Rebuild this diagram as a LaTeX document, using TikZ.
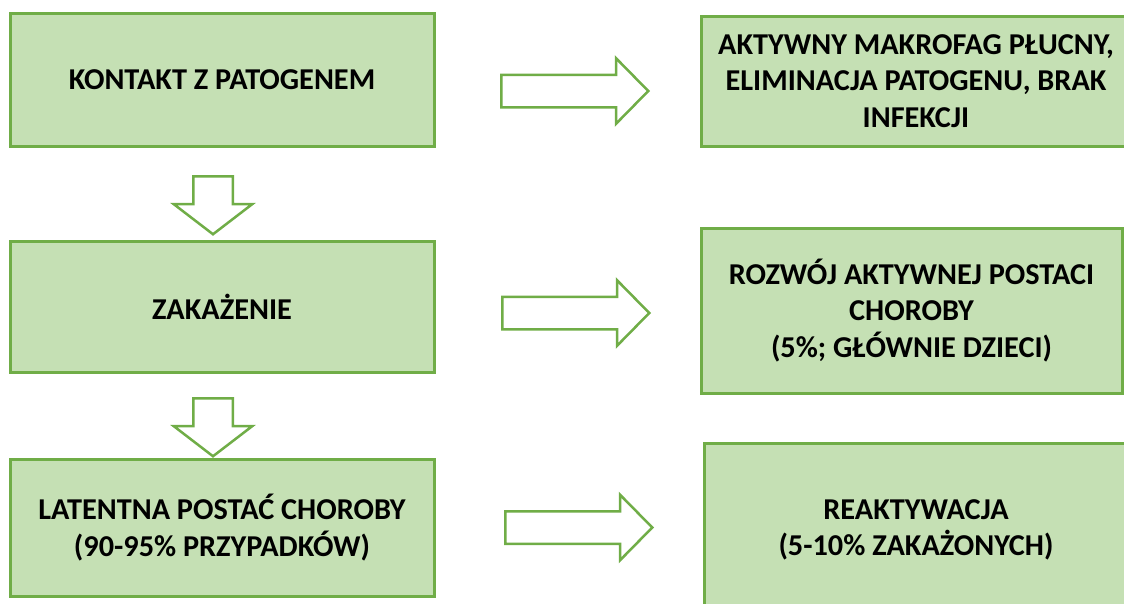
\documentclass[tikz,border=0pt]{standalone}
\usepackage{fontspec}
\setmainfont{Carlito}
\usetikzlibrary{shapes.arrows}
\definecolor{boxfill}{HTML}{C5E0B4}
\definecolor{boxline}{HTML}{70AD47}
\begin{document}
\begin{tikzpicture}[x=1pt,y=-1pt,
  stagebox/.style={draw=boxline, fill=boxfill, line width=3pt, inner sep=0pt,
    align=center, font=\fontsize{30.3pt}{36.5pt}\selectfont\bfseries, text=black},
  rightarrow/.style={single arrow, draw=boxline, fill=white, line width=2.5pt,
    inner xsep=0pt, inner ysep=15pt, minimum height=147pt, minimum width=63pt,
    single arrow head extend=16.5pt, single arrow tip angle=91, anchor=tail},
  downarrow/.style={single arrow, draw=boxline, fill=white, line width=2.5pt,
    inner xsep=0pt, inner ysep=18.5pt, minimum height=58pt, minimum width=76pt,
    single arrow head extend=19.5pt, single arrow tip angle=105, rotate=-90,
    anchor=tail}]
\clip (0,0) rectangle (1124,603);
\useasboundingbox (0,0) rectangle (1124,603);

% left column: stages of the disease
\node[stagebox, minimum width=424pt, minimum height=133pt] (kontakt) at (222,79.5)
  {KONTAKT Z PATOGENEM};
\node[stagebox, minimum width=424pt, minimum height=131pt] (zakazenie) at (222,306.5)
  {ZAKAŻENIE};
\node[stagebox, minimum width=424pt, minimum height=137pt] (latentna) at (222,527.5)
  {LATENTNA POSTAĆ CHOROBY\\(90-95\% PRZYPADKÓW)};

% right column: outcomes
\node[stagebox, minimum width=430pt, minimum height=130pt] (makrofag) at (916,81)
  {AKTYWNY MAKROFAG PŁUCNY,\\ELIMINACJA PATOGENU, BRAK\\INFEKCJI};
\node[stagebox, minimum width=421pt, minimum height=165pt] (rozwoj) at (911.5,310.5)
  {ROZWÓJ AKTYWNEJ POSTACI\\CHOROBY\\(5\%; GŁÓWNIE DZIECI)};
\node[stagebox, minimum width=424pt, minimum height=174pt] (reaktywacja) at (916,530)
  {REAKTYWACJA\\(5-10\% ZAKAŻONYCH)};

% block arrows between the stages (placed by their tails)
\node[rightarrow] (a1) at (500,91) {};
\node[rightarrow] (a2) at (501,313) {};
\node[rightarrow] (a3) at (504,527.5) {};
\node[downarrow] (d1) at (213,175) {};
\node[downarrow] (d2) at (213,397) {};
\end{tikzpicture}
\end{document}
